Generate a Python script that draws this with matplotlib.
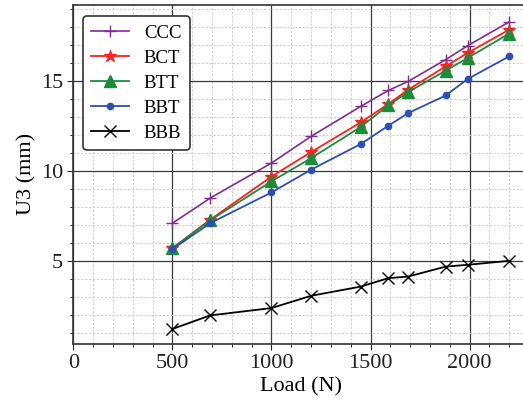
import matplotlib
matplotlib.use("Agg")
import matplotlib.pyplot as plt
from matplotlib.ticker import MultipleLocator

# Applied load (N)
load = [500, 690, 1000, 1200, 1450, 1590, 1690, 1880, 1990, 2200]

# U3 displacement (mm) for each configuration
ccc = [7.09, 8.48, 10.43, 11.91, 13.57, 14.46, 14.96, 16.17, 16.94, 18.26]
bct = [5.71, 7.28, 9.68, 11.04, 12.68, 13.71, 14.50, 15.80, 16.54, 17.83]
btt = [5.70, 7.25, 9.41, 10.70, 12.43, 13.63, 14.37, 15.56, 16.26, 17.61]
bbt = [5.65, 7.09, 8.80, 10.06, 11.48, 12.50, 13.20, 14.18, 15.09, 16.35]
bbb = [1.22, 1.97, 2.38, 3.06, 3.57, 4.04, 4.13, 4.68, 4.78, 5.00]

x_ticks = [0, 500, 1000, 1500, 2000]
y_ticks = [5, 10, 15]

plt.rcParams['font.family'] = ['Liberation Serif', 'DejaVu Serif']

fig = plt.figure(figsize=(5.23, 4.03), dpi=100)
ax = fig.add_axes([0.1405, 0.1471, 0.8708, 0.8404])

series = [
    ("CCC", ccc, "#7e2f8e", "+", 8, 1.2),
    ("BCT", bct, "#ff2020", "*", 9, 1.3),
    ("BTT", btt, "#1e8a3c", "^", 8, 1.3),
    ("BBT", bbt, "#2f4fb0", "o", 4.5, 1.3),
    ("BBB", bbb, "#000000", "x", 8, 1.3),
]
for name, vals, color, marker, ms, lw in series:
    ax.plot(load, vals, color=color, marker=marker, markersize=ms,
            linewidth=lw, markeredgewidth=1.0,
            label=name)

ax.set_xlim(0, 2300)
ax.set_ylim(0.4, 19.2)
ax.set_xticks(x_ticks)
ax.set_yticks(y_ticks)
ax.xaxis.set_minor_locator(MultipleLocator(100))
ax.yaxis.set_minor_locator(MultipleLocator(1))

ax.grid(which='major', color='#3a3a3a', linewidth=0.9, linestyle='-')
ax.grid(which='minor', color='#d0d0d0', linewidth=0.8, linestyle=(0, (2, 1.5)))
ax.set_axisbelow(True)

ax.tick_params(which='major', direction='out', length=4, width=0.8,
               labelsize=16, colors='#222222')
ax.tick_params(which='minor', direction='out', length=2, width=0.6)
for sp in ax.spines.values():
    sp.set_color('#333333')
    sp.set_linewidth(1.2)

ax.set_xlabel("Load (N)", fontsize=16, labelpad=3)
ax.set_ylabel("U3 (mm)", fontsize=16, labelpad=3)

leg = ax.legend(loc='upper left', fontsize=13.5, frameon=True, fancybox=True,
                edgecolor='#333333', framealpha=1.0, handlelength=2.0,
                borderpad=0.45, labelspacing=0.42, handletextpad=0.8,
                bbox_to_anchor=(0.0, 0.995), borderaxespad=0.5)
leg.get_frame().set_linewidth(1.2)

fig.savefig("out.png", dpi=100)
